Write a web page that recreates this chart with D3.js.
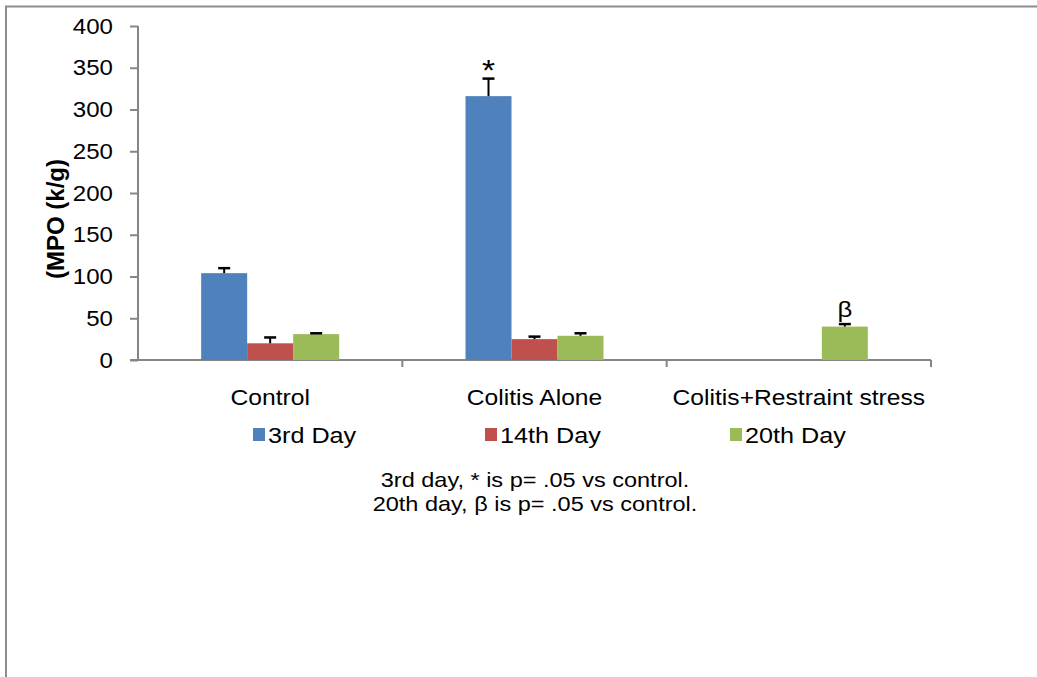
<!DOCTYPE html>
<html>
<head>
<meta charset="utf-8">
<script src="https://cdn.jsdelivr.net/npm/d3@7"></script>
<style>
  html, body { margin: 0; padding: 0; background: #fff; }
  svg { display: block; font-family: Arial, "Liberation Sans", sans-serif; }
</style>
</head>
<body>
<svg id="chart" width="1037" height="677"></svg>
<script>
const categories = ["Control", "Colitis Alone", "Colitis+Restraint stress"];
const seriesNames = ["3rd Day", "14th Day", "20th Day"];
const day3 = [104, 316, null];
const day14 = [20, 25, null];
const day20 = [31, 29, 40];
const err3 = [6, 21, null];
const err14 = [7, 3, null];
const err20 = [1, 3, 3];
const markers = [{cat: 1, series: 0, text: "*"}, {cat: 2, series: 2, text: "β"}];
const yTicks = [0, 50, 100, 150, 200, 250, 300, 350, 400];
const footnotes = ["3rd day, * is p= .05 vs control.", "20th day, β is p= .05 vs control."];
const colors = ["#4f81bd", "#c0504d", "#9bbb59"];

const values = [day3, day14, day20];
const errors = [err3, err14, err20];

const svg = d3.select("#chart");
const axisColor = "#868686";
const SX = 1.12; // horizontal stretch of the original rendering

function sText(x, yy, anchor, size, txt, weight) {
  return svg.append("text")
    .attr("transform", `translate(${x},${yy}) scale(${SX},1)`)
    .attr("text-anchor", anchor).attr("font-size", size)
    .attr("font-weight", weight || "normal").attr("fill", "#000").text(txt);
}

// outer frame
svg.append("rect").attr("x", 6).attr("y", 6.5).attr("width", 1100).attr("height", 800)
  .attr("fill", "none").attr("stroke", "#8c8c8c").attr("stroke-width", 2);

const x0 = d3.scaleBand().domain(categories).range([138, 931]).paddingInner(0).paddingOuter(0);
const y = d3.scaleLinear().domain([0, 400]).range([360, 26]);
const barW = 46;
const groupW = barW * 3;

// y axis
const yAxis = d3.axisLeft(y).tickValues(yTicks).tickSize(8).tickFormat("");
const gy = svg.append("g").attr("transform", "translate(138,0)").call(yAxis);
gy.select(".domain").attr("stroke", axisColor).attr("stroke-width", 2).attr("d", `M0,${y(400)}V${y(0)}`);
gy.selectAll(".tick line").attr("stroke", axisColor).attr("stroke-width", 2);
yTicks.forEach(t => sText(113, y(t) + 7.5, "end", 21.5, String(t)));

// x axis
const gx = svg.append("g").attr("transform", "translate(0,360)");
gx.append("line").attr("x1", 130).attr("x2", 931).attr("y1", 0).attr("y2", 0)
  .attr("stroke", axisColor).attr("stroke-width", 2);
const bounds = categories.map(c => x0(c) + x0.bandwidth());
gx.selectAll("line.tk").data(bounds).join("line").attr("class", "tk")
  .attr("x1", d => d).attr("x2", d => d).attr("y1", 0).attr("y2", 7)
  .attr("stroke", axisColor).attr("stroke-width", 2);
categories.forEach(c => sText(x0(c) + x0.bandwidth() / 2, 405, "middle", 22, c));

// bars
const xs = d3.scaleBand().domain(d3.range(3)).range([0, groupW]);
categories.forEach((cat, ci) => {
  const gx0 = x0(cat) + x0.bandwidth() / 2 - groupW / 2;
  values.forEach((vals, si) => {
    const v = vals[ci];
    if (v == null) return;
    const bx = gx0 + xs(si);
    svg.append("rect").attr("x", bx).attr("y", y(v)).attr("width", xs.bandwidth())
      .attr("height", y(0) - y(v)).attr("fill", colors[si]);
    const e = errors[si][ci];
    if (e != null) {
      const cx = bx + xs.bandwidth() / 2;
      svg.append("line").attr("x1", cx).attr("x2", cx).attr("y1", y(v)).attr("y2", y(v + e))
        .attr("stroke", "#000").attr("stroke-width", 2);
      svg.append("line").attr("x1", cx - 6).attr("x2", cx + 6).attr("y1", y(v + e)).attr("y2", y(v + e))
        .attr("stroke", "#000").attr("stroke-width", 2.5);
    }
  });
});

// markers
markers.forEach(m => {
  const cat = categories[m.cat];
  const gx0 = x0(cat) + x0.bandwidth() / 2 - groupW / 2;
  const cx = gx0 + xs(m.series) + xs.bandwidth() / 2;
  const top = values[m.series][m.cat] + errors[m.series][m.cat];
  if (m.text === "*") sText(cx, y(top) + 1, "middle", 30, m.text);
  else sText(cx, y(top) - 7, "middle", 23, m.text);
});

// y label
svg.append("text").attr("transform", "translate(64,219) rotate(-90)")
  .attr("text-anchor", "middle").attr("font-size", 24).attr("font-weight", "bold").attr("fill", "#000")
  .text("(MPO (k/g)");

// legend
const legX = [253, 485, 730];
seriesNames.forEach((n, i) => {
  svg.append("rect").attr("x", legX[i]).attr("y", 428).attr("width", 12).attr("height", 13).attr("fill", colors[i]);
  sText(legX[i] + 15, 443, "start", 22.5, n);
});

// footnotes
footnotes.forEach((t, i) => sText(535, 487 + i * 24, "middle", 21, t));
</script>
</body>
</html>
